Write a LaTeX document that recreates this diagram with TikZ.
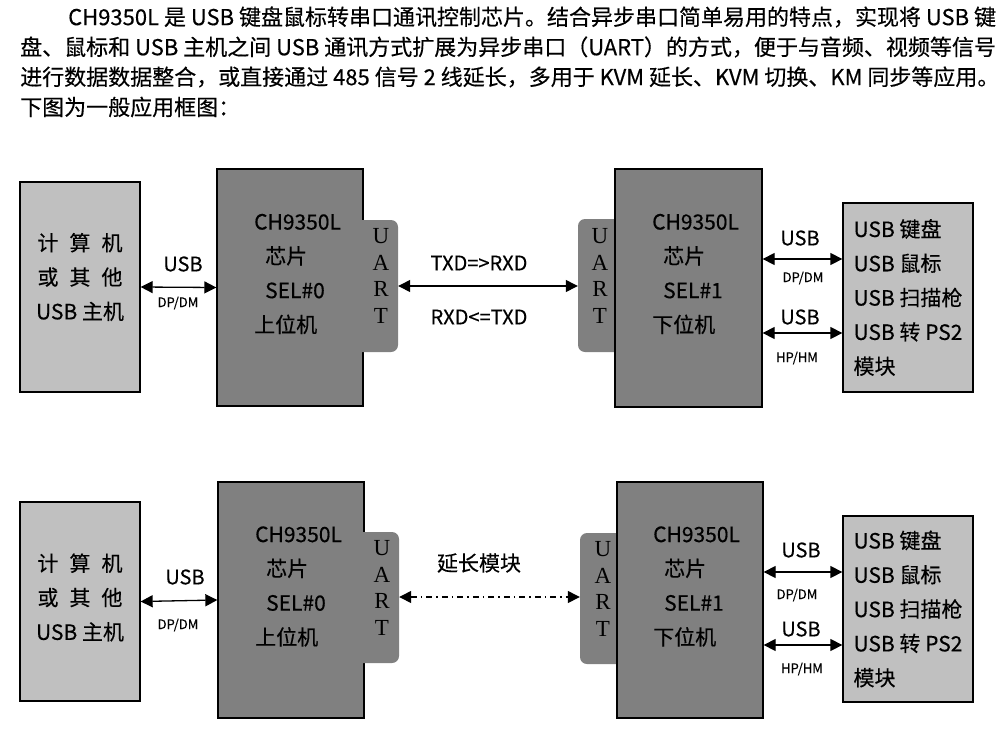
\documentclass[tikz,border=0pt]{standalone}
\usepackage{fontspec}
\setmainfont{Noto Sans CJK SC}[FakeBold=0.35]
\newfontfamily\uartfont{Liberation Serif}
\usetikzlibrary{arrows.meta}
\definecolor{chipgray}{RGB}{128,128,128}
\definecolor{hostgray}{RGB}{192,192,192}
\tikzset{
  hostbox/.style={draw=black, line width=1.3pt, fill=hostgray, inner sep=0pt},
  chipbox/.style={draw=black, line width=1.3pt, fill=chipgray, inner sep=0pt},
  tabbox/.style={fill=chipgray, rounded corners=7pt, inner sep=0pt},
  para/.style={font=\fontsize{22}{30}\selectfont, inner sep=0pt},
  txt/.style={font=\fontsize{21}{34.3}\selectfont, inner sep=0pt},
  lbl/.style={font=\fontsize{20}{24}\selectfont, inner sep=0pt},
  small/.style={font=\fontsize{13}{15}\selectfont, inner sep=0pt},
  uart/.style={font=\uartfont\fontsize{23}{26.7}\selectfont, inner sep=0pt, align=center},
  link/.style={line width=1.3pt, {Triangle[length=12pt,width=12pt]}-{Triangle[length=12pt,width=12pt]}},
  dlink/.style={link, dash pattern=on 6pt off 4pt on 1.5pt off 4pt}
}
\begin{document}
\begin{tikzpicture}[x=1pt,y=-1pt]
\useasboundingbox (0,0) rectangle (1007,734);
% paragraph
\node[para, anchor=west] (p1) at (68,17) {CH9350L 是 USB 键盘鼠标转串口通讯控制芯片。结合异步串口简单易用的特点，实现将 USB 键};
\node[para, anchor=west] (p2) at (20,47) {盘、鼠标和 USB 主机之间 USB 通讯方式扩展为异步串口（UART）的方式，便于与音频、视频等信号};
\node[para, anchor=west] (p3) at (20,77) {进行数据数据整合，或直接通过 485 信号 2 线延长，多用于 KVM 延长、KVM 切换、KM 同步等应用。};
\node[para, anchor=west] (p4) at (20,107) {下图为一般应用框图：};

% ===== top diagram =====
\node[hostbox, minimum width=120pt, minimum height=210pt] (hostA) at (80,287) {};
\node[txt, align=center] (hostAt) at (80,277) {\makebox[85pt][s]{计\hfill 算\hfill 机}\\\makebox[85pt][s]{或\hfill 其\hfill 他}\\USB 主机};
\node[chipbox, minimum width=146pt, minimum height=237pt] (chipA0) at (290,287.5) {};
\node[tabbox, minimum width=46pt, minimum height=132pt] (tabA0) at (375,286) {};
\node[txt, align=left, anchor=west] (chipA0t) at (254,274) {CH9350L\\\hspace*{11pt}芯片\\\hspace*{11pt}SEL\#0\\上位机};
\node[uart] (uA0) at (381,276) {U\\A\\R\\T};

\node[tabbox, minimum width=46pt, minimum height=133pt] (tabA1) at (601,285.5) {};
\node[chipbox, minimum width=147pt, minimum height=238pt] (chipA1) at (688.5,288) {};
\node[uart] (uA1) at (600,276) {U\\A\\R\\T};
\node[txt, align=left, anchor=west] (chipA1t) at (652,274) {CH9350L\\\hspace*{11pt}芯片\\\hspace*{11pt}SEL\#1\\下位机};

\node[hostbox, minimum width=130pt, minimum height=189pt, txt, align=left] (devA) at (908,297.5) {USB 键盘\\USB 鼠标\\USB 扫描枪\\USB 转 PS2\\模块};

\draw[link] (hostA.east) -- (chipA0.west);
\node[lbl] (usbA0) at (183,264) {USB};
\node[small] (dpA0) at (178,303) {DP/DM};

\coordinate (yA) at (0,286);
\draw[link] (tabA0.east |- yA) -- (tabA1.west |- yA);
\node[lbl] (txA) at (479,263) {TXD=>RXD};
\node[lbl] (rxA) at (479,317) {RXD<=TXD};

\coordinate (yA1) at (0,259);
\coordinate (yA2) at (0,333);
\draw[link] (chipA1.east |- yA1) -- (devA.west |- yA1);
\draw[link] (chipA1.east |- yA2) -- (devA.west |- yA2);
\node[lbl] (usbA1) at (800,238) {USB};
\node[small] (dpA1) at (803,278) {DP/DM};
\node[lbl] (usbA2) at (800,317) {USB};
\node[small] (hpA1) at (797,358) {HP/HM};

% ===== bottom diagram =====
\node[hostbox, minimum width=120pt, minimum height=199pt] (hostB) at (80,601.5) {};
\node[txt, align=center] (hostBt) at (80,597.5) {\makebox[85pt][s]{计\hfill 算\hfill 机}\\\makebox[85pt][s]{或\hfill 其\hfill 他}\\USB 主机};
\node[chipbox, minimum width=146pt, minimum height=236pt] (chipB0) at (291,600) {};
\node[tabbox, minimum width=46pt, minimum height=131pt] (tabB0) at (376,597.5) {};
\node[txt, align=left, anchor=west] (chipB0t) at (255,586.5) {CH9350L\\\hspace*{11pt}芯片\\\hspace*{11pt}SEL\#0\\上位机};
\node[uart] (uB0) at (382,588) {U\\A\\R\\T};

\node[tabbox, minimum width=46pt, minimum height=131pt] (tabB1) at (603,598.5) {};
\node[chipbox, minimum width=146pt, minimum height=236pt] (chipB1) at (690,600) {};
\node[uart] (uB1) at (603,589) {U\\A\\R\\T};
\node[txt, align=left, anchor=west] (chipB1t) at (653,586.5) {CH9350L\\\hspace*{11pt}芯片\\\hspace*{11pt}SEL\#1\\下位机};

\node[hostbox, minimum width=130pt, minimum height=186pt, txt, align=left] (devB) at (908,609) {USB 键盘\\USB 鼠标\\USB 扫描枪\\USB 转 PS2\\模块};

\draw[link] (hostB.east) -- (chipB0.west);
\node[lbl] (usbB0) at (185,577) {USB};
\node[small] (dpB0) at (178,625) {DP/DM};

\coordinate (yB) at (0,597);
\draw[dlink] (tabB0.east |- yB) -- (tabB1.west |- yB);
\node[lbl, font=\fontsize{21}{24}\selectfont] (extB) at (479,563) {延长模块};

\coordinate (yB1) at (0,572);
\coordinate (yB2) at (0,645);
\draw[link] (chipB1.east |- yB1) -- (devB.west |- yB1);
\draw[link] (chipB1.east |- yB2) -- (devB.west |- yB2);
\node[lbl] (usbB1) at (801,550) {USB};
\node[small] (dpB1) at (797,595) {DP/DM};
\node[lbl] (usbB2) at (801,629) {USB};
\node[small] (hpB1) at (802,669) {HP/HM};
\end{tikzpicture}
\end{document}
